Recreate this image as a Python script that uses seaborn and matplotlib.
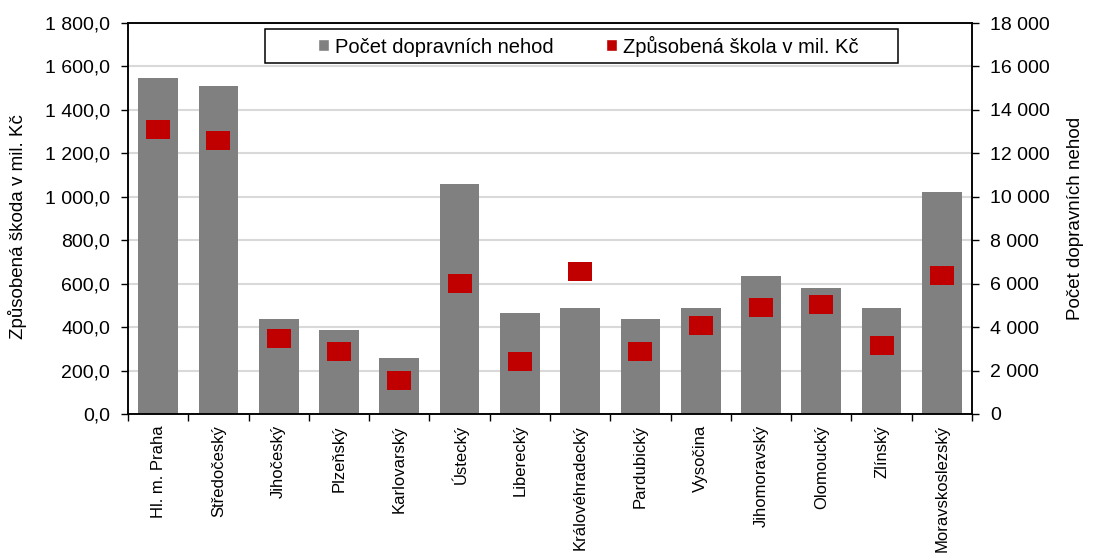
import matplotlib
matplotlib.use("Agg")
import matplotlib.pyplot as plt
from matplotlib.markers import MarkerStyle
from matplotlib.patches import Patch, Rectangle
from matplotlib.ticker import FuncFormatter, MultipleLocator
import seaborn as sns
import pandas as pd
import numpy as np

kraje = ["Hl. m. Praha", "Středočeský", "Jihočeský", "Plzeňský", "Karlovarský",
         "Ústecký", "Liberecký", "Královéhradecký", "Pardubický", "Vysočina",
         "Jihomoravský", "Olomoucký", "Zlínský", "Moravskoslezský"]
nehody = [15480, 15110, 4390, 3850, 2600, 10570, 4630, 4890, 4390, 4880, 6350, 5800, 4880, 10200]
skoda = [1308, 1258, 349, 289, 155, 600, 241, 655, 288, 406, 492, 503, 314, 637]

lbl_nehody = "Počet dopravních nehod"
lbl_skoda = "Způsobená škoda v mil. Kč"
lbl_legend_skoda = "Způsobená škola v mil. Kč"

df = pd.DataFrame({"kraj": kraje, "nehody": nehody, "skoda": skoda})

sns.set_style("white", {"axes.edgecolor": "black", "xtick.color": "black", "ytick.color": "black",
                        "text.color": "black", "axes.labelcolor": "black"})
plt.rcParams["font.family"] = ["Liberation Sans", "DejaVu Sans"]

fig = plt.figure(figsize=(10.95, 5.57), dpi=100)
ax = fig.add_axes([128 / 1095, 1 - 414 / 557, 844 / 1095, 391 / 557])
ax2 = ax.twinx()
# squares on top of bars
ax.set_zorder(ax2.get_zorder() + 1)
ax.patch.set_visible(False)
ax2.patch.set_visible(True)
ax2.patch.set_facecolor("white")

sns.barplot(data=df, x="kraj", y="nehody", color="#808080", saturation=1, width=0.66,
            errorbar=None, linewidth=0, ax=ax2)

rect = MarkerStyle([(-1.25, -1), (1.25, -1), (1.25, 1), (-1.25, 1), (-1.25, -1)])
sns.scatterplot(x=np.arange(len(kraje)), y=skoda, marker=rect, s=300, color="#c00000",
                edgecolor="none", linewidth=0, legend=False, ax=ax, zorder=3)

n = len(kraje)
ax.set_xlim(-0.5, n - 0.5)
ax.set_xticks(np.arange(n))
ax.set_xticklabels(kraje, rotation=90)
ax.set_xticks(np.arange(-0.5, n), minor=True)
ax.tick_params(axis="x", which="major", length=0, labelsize=12, pad=8)
ax.tick_params(axis="x", which="minor", length=5, width=1, direction="out", bottom=True)
ax.set_xlabel("")

ax.set_ylim(0, 1800)
ax.yaxis.set_major_locator(MultipleLocator(200))
ax.yaxis.set_major_formatter(FuncFormatter(lambda v, p: f"{v:,.1f}".replace(",", " ").replace(".", ",")))
ax.tick_params(axis="y", length=5, width=1, direction="out", left=True, labelsize=14, pad=8)
ax.set_ylabel(lbl_skoda, fontsize=13.5)
ax.yaxis.set_label_coords(-0.12, 0.48)

ax2.set_ylim(0, 18000)
ax2.yaxis.set_major_locator(MultipleLocator(2000))
ax2.yaxis.set_major_formatter(FuncFormatter(lambda v, p: f"{int(round(v)):,}".replace(",", " ")))
ax2.tick_params(axis="y", length=5, width=1, direction="out", right=True, labelsize=14, pad=8)
ax2.set_ylabel(lbl_nehody, fontsize=13.5, labelpad=12)
ax2.set_xlabel("")
ax2.yaxis.grid(True, color="#d9d9d9", linewidth=1.5)
ax2.set_axisbelow(True)

for a in (ax, ax2):
    for s in a.spines.values():
        s.set_color("black")
        s.set_linewidth(1.1)

# legend box
ax.add_patch(Rectangle(((265 - 128) / 844, (414 - 63) / 391), (898 - 265) / 844, (63 - 29) / 391,
                       transform=ax.transAxes, facecolor="white", edgecolor="black",
                       linewidth=1.1, clip_on=False, zorder=4))
handles = [Patch(facecolor="#808080", label=lbl_nehody),
           Patch(facecolor="#c00000", label=lbl_legend_skoda)]
leg = ax.legend(handles=handles, ncol=2, loc="center left",
                bbox_to_anchor=((308 - 128) / 844, (414 - 46) / 391),
                frameon=False, fontsize=14.5, borderpad=0, handlelength=0.55, handleheight=0.55,
                handletextpad=0.3, columnspacing=2.6)
leg.set_zorder(6)

fig.savefig("out.png", dpi=100)
